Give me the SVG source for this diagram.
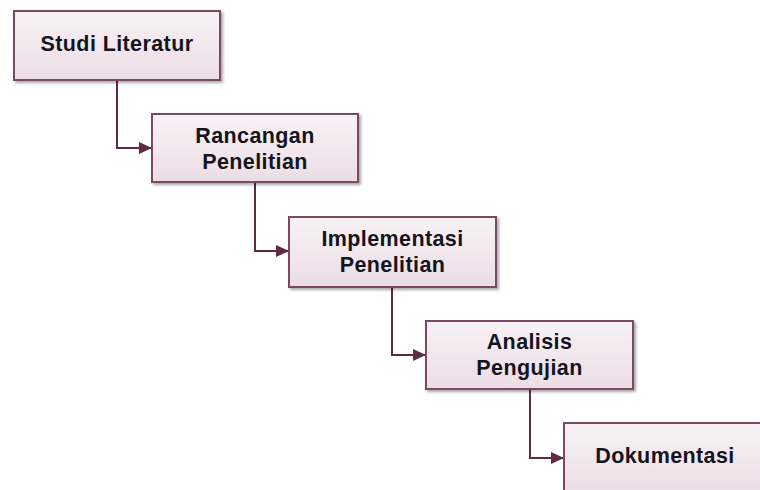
<svg xmlns="http://www.w3.org/2000/svg" width="760" height="490" viewBox="0 0 760 490">
  <defs>
    <linearGradient id="boxFill" x1="0" y1="0" x2="0" y2="1">
      <stop offset="0" stop-color="#f8f2f5"/>
      <stop offset="1" stop-color="#ecdde4"/>
    </linearGradient>
    <filter id="shadow" x="-10%" y="-10%" width="120%" height="130%">
      <feGaussianBlur in="SourceAlpha" stdDeviation="1.5"/>
      <feOffset dx="2" dy="2" result="blur"/>
      <feComponentTransfer><feFuncA type="linear" slope="0.35"/></feComponentTransfer>
      <feMerge><feMergeNode/><feMergeNode in="SourceGraphic"/></feMerge>
    </filter>
    <marker id="arrow" viewBox="0 0 13 12" refX="13" refY="6" markerWidth="13" markerHeight="12" markerUnits="userSpaceOnUse" orient="auto">
      <path d="M0,0 L13,6 L0,12 Z" fill="#5e2a44"/>
    </marker>
  </defs>
  <style>
    .box { fill: url(#boxFill); stroke: #7a4a63; stroke-width: 2; filter: url(#shadow); }
    .label { font-family: "Liberation Sans", Arial, sans-serif; font-weight: bold; font-size: 21.5px; letter-spacing: 0.4px; fill: #14141f; text-anchor: middle; }
    .link { fill: none; stroke: #5e2a44; stroke-width: 2; marker-end: url(#arrow); }
  </style>
  <rect width="760" height="490" fill="#ffffff"/>

  <g id="connectors">
    <path class="link" d="M117,80 V148 H152"/>
    <path class="link" d="M255,182 V251 H289"/>
    <path class="link" d="M392,287 V355 H426"/>
    <path class="link" d="M530,389 V458 H564"/>
  </g>

  <g id="studi-literatur">
    <rect class="box" x="14" y="11" width="206" height="69"/>
    <text class="label" x="117" y="51">Studi Literatur</text>
  </g>

  <g id="rancangan-penelitian">
    <rect class="box" x="152" y="114" width="206" height="68"/>
    <text class="label" x="255" y="143">Rancangan</text>
    <text class="label" x="255" y="168.5">Penelitian</text>
  </g>

  <g id="implementasi-penelitian">
    <rect class="box" x="289" y="217" width="207" height="70"/>
    <text class="label" x="392.5" y="245.5">Implementasi</text>
    <text class="label" x="392.5" y="271.5">Penelitian</text>
  </g>

  <g id="analisis-pengujian">
    <rect class="box" x="426" y="321" width="207" height="68"/>
    <text class="label" x="529.5" y="349">Analisis</text>
    <text class="label" x="529.5" y="375">Pengujian</text>
  </g>

  <g id="dokumentasi">
    <rect class="box" x="564" y="423" width="207" height="70"/>
    <text class="label" x="665" y="463">Dokumentasi</text>
  </g>
</svg>
